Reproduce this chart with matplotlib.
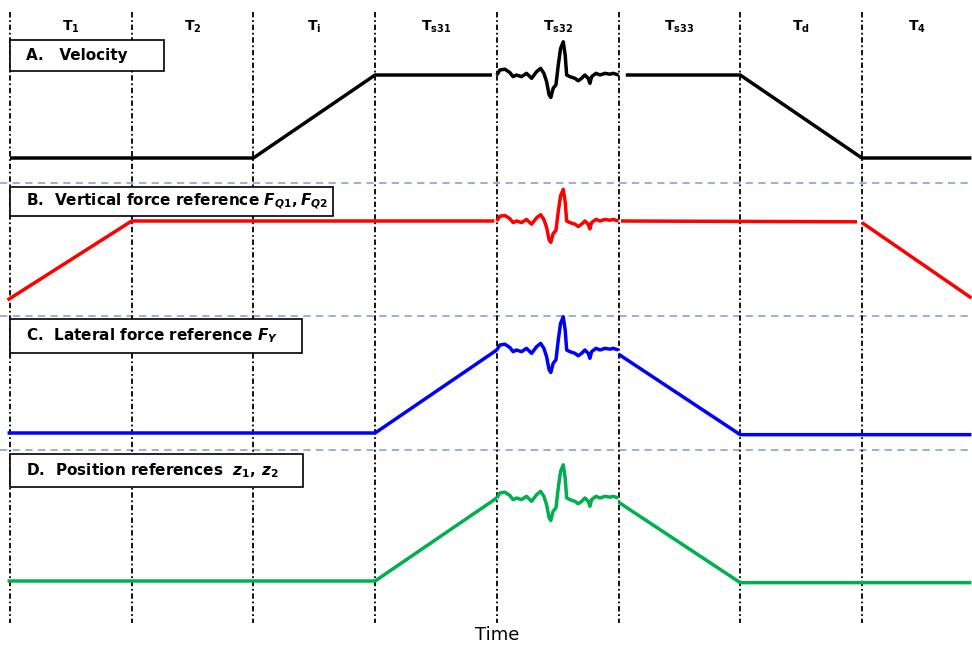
import numpy as np
import matplotlib
matplotlib.use("Agg")
import matplotlib.pyplot as plt
from matplotlib.patches import Rectangle

plt.rcParams['mathtext.fontset'] = 'custom'
plt.rcParams['mathtext.rm'] = 'DejaVu Sans:bold'
plt.rcParams['mathtext.it'] = 'DejaVu Sans:italic:bold'
plt.rcParams['mathtext.bf'] = 'DejaVu Sans:bold'

# phase names along the top
phases = [r'$\mathrm{T}_{\mathrm{1}}$', r'$\mathrm{T}_{\mathrm{2}}$', r'$\mathrm{T}_{\mathrm{i}}$',
          r'$\mathrm{T}_{\mathrm{s31}}$', r'$\mathrm{T}_{\mathrm{s32}}$', r'$\mathrm{T}_{\mathrm{s33}}$',
          r'$\mathrm{T}_{\mathrm{d}}$', r'$\mathrm{T}_{\mathrm{4}}$']
phase_edges = [0, 1, 2, 3, 4, 5, 6, 7]
t_end = 7.9

# disturbance during T_s32 (fraction of phase, fraction of step height)
wig_t = [0.0, 0.025, 0.066, 0.107, 0.134, 0.162, 0.203, 0.244, 0.286, 0.327, 0.360,
         0.387, 0.409, 0.430, 0.444, 0.463, 0.486, 0.505, 0.524, 0.546, 0.562, 0.574,
         0.601, 0.642, 0.669, 0.697, 0.724, 0.751, 0.765, 0.779, 0.815, 0.848, 0.889,
         0.930, 0.957, 1.0]
wig_v = [0.0, 0.06, 0.07, 0.03, -0.02, 0.0, -0.02, 0.02, -0.04, 0.04, 0.08,
         0.02, -0.08, -0.24, -0.27, -0.16, -0.12, 0.12, 0.32, 0.40, 0.24, 0.0,
         -0.02, -0.04, -0.07, -0.04, 0.0, -0.04, -0.10, -0.02, 0.02, 0.0, 0.02,
         0.01, 0.02, 0.0]

# A. velocity
vel_t1 = [0, 2, 3, 3.96]
vel_v1 = [0, 0, 1, 1]
vel_t2 = [5.06, 6, 7, t_end]
vel_v2 = [1, 1, 0, 0]

# B. vertical force reference
fq_t1 = [-0.02, 1, 3.98]
fq_v1 = [0, 1, 1]
fq_t2 = [5.02, 6.96]
fq_v2 = [1, 0.99]
fq_t3 = [7.0, t_end]
fq_v3 = [0.98, 0.025]

# C. lateral force reference
fy_t1 = [-0.02, 3, 4]
fy_v1 = [0, 0, 1]
fy_t2 = [5, 6, t_end]
fy_v2 = [0.95, -0.02, -0.02]

# D. position references
z_t1 = [-0.02, 3, 4]
z_v1 = [0, 0, 1]
z_t2 = [5, 6, t_end]
z_v2 = [0.95, -0.02, -0.02]

W, H = 972, 646
x0, seg = 10, 121.7  # pixel of t=0, pixels per phase

fig = plt.figure(figsize=(W / 100, H / 100), dpi=100)
ax = fig.add_axes([0, 0, 1, 1])
ax.set_xlim(-x0 / seg, (W - x0) / seg)
ax.set_ylim(H, 0)
ax.axis('off')

# panel layout: (baseline row, step height, colour)
panels = {
    'A': (158, 83, 'black'),
    'B': (300, 79, '#ff0000'),
    'C': (433, 83, '#0000ff'),
    'D': (581, 83, '#00b050'),
}


def draw(key, t, v, offset=0.0):
    base, h, c = panels[key]
    ax.plot(np.asarray(t) + offset, base - h * np.asarray(v), color=c, lw=2.5,
            solid_capstyle='butt', solid_joinstyle='round', zorder=3)


def wiggle(key):
    draw(key, wig_t, 1 + np.asarray(wig_v), offset=4)


draw('A', vel_t1, vel_v1)
wiggle('A')
draw('A', vel_t2, vel_v2)

draw('B', fq_t1, fq_v1)
wiggle('B')
draw('B', fq_t2, fq_v2)
draw('B', fq_t3, fq_v3)

draw('C', fy_t1, fy_v1)
wiggle('C')
draw('C', fy_t2, fy_v2)

draw('D', z_t1, z_v1)
wiggle('D')
draw('D', z_t2, z_v2)

# phase boundaries
for e in phase_edges:
    ax.plot([e, e], [12, 623], color='black', lw=1.3,
            linestyle=(0, (3, 1.5, 1, 1.5)), zorder=2)

# panel separators
for y in [183, 316, 450]:
    ax.plot([-x0 / seg, (W - x0) / seg], [y, y], color='#8eaad6', lw=1.3,
            linestyle=(0, (4, 3)), zorder=1)

# phase names
centers = [(a + b) / 2 for a, b in zip(phase_edges, phase_edges[1:] + [t_end])]
for c, name in zip(centers, phases):
    ax.text(c, 27, name, ha='center', va='center', fontsize=10)

# panel titles in boxes: (left px, top px, right px, bottom px, text)
boxes = [
    (10, 40, 164, 71, 'A.   Velocity'),
    (10, 187, 333, 216, r'B.  Vertical force reference $\mathit{F_{Q1},F_{Q2}}$'),
    (10, 319, 302, 353, r'C.  Lateral force reference $\mathit{F_{Y}}$'),
    (10, 454, 303, 487, r'D.  Position references  $\mathit{z_{1},\,z_{2}}$'),
]
for l, t, r, b, txt in boxes:
    ax.add_patch(Rectangle(((l - x0) / seg, b), (r - l) / seg, t - b,
                           facecolor='white', edgecolor='black', lw=1.2, zorder=4))
    ax.text((l + 16 - x0) / seg, (t + b) / 2, txt, ha='left', va='center',
            fontsize=11, fontweight='bold', zorder=5)

ax.text((497 - x0) / seg, 635, 'Time', ha='center', va='center', fontsize=13)

fig.savefig('out.png', dpi=100)
